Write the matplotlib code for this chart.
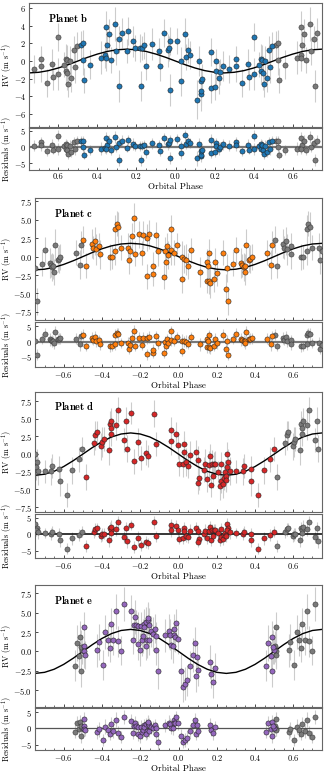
import numpy as np
import matplotlib
matplotlib.use('Agg')
import matplotlib.pyplot as plt
from matplotlib.ticker import MultipleLocator, FixedLocator, FixedFormatter

plt.rcParams['font.family'] = 'serif'
plt.rcParams['font.serif'] = ['cmr10']
plt.rcParams['mathtext.fontset'] = 'cm'
plt.rcParams['axes.formatter.use_mathtext'] = True

# ---- planet b ----
ph_b = [-0.486,-0.474,-0.474,-0.469,-0.437,-0.38,-0.36,-0.358,-0.35,-0.355,
        -0.343,-0.33,-0.31,-0.304,-0.29,-0.287,-0.276,-0.25,-0.244,-0.22,
        -0.207,-0.183,-0.172,-0.176,-0.16,-0.153,-0.12,-0.082,-0.08,-0.061,
        -0.04,-0.034,-0.026,-0.026,0.009,0.029,0.029,0.048,0.055,0.063,
        0.073,0.11,0.12,0.128,0.131,0.128,0.135,0.18,0.18,0.2,
        0.205,0.205,0.224,0.23,0.242,0.276,0.309,0.309,0.341,0.37,
        0.375,0.4,0.4,0.43,0.438,0.438,0.445,0.447,0.452,0.459,
        0.467,0.481,0.486,0.495]
rv_b = [1.81,2.0,0.17,-2.19,-0.4,0.4,0.67,3.9,1.77,0.29,
        3.07,0.1,4.2,1.16,2.46,-2.84,3.2,1.16,3.4,2.23,
        1.5,1.5,1.5,-2.88,1.77,-0.6,1.96,1.12,-0.6,3.14,
        1.23,1.43,2.3,-3.26,2.3,-2.23,-0.02,3.1,0.48,1.23,
        0.67,-4.4,-0.02,-3.8,-3.4,-2.27,-2.08,1.0,-3.03,-2.95,
        -0.02,-1.12,-1.92,-1.24,-0.55,-0.9,0.21,-0.6,-2.46,-0.36,
        -1.77,2.69,-1.5,-0.4,0.25,-1.12,0.17,-1.35,-2.57,0.02,
        -1.89,1.31,-0.67,1.7]
err_b = [1.6,1.5,1.8,1.4,1.6,1.9,1.5,1.8,1.6,1.4,
         1.7,1.5,1.9,1.6,1.5,1.8,1.7,1.4,1.6,1.8,
         1.5,1.6,1.4,1.7,1.5,1.6,1.8,1.5,1.7,1.6,
         1.9,1.4,1.6,1.8,1.5,1.7,1.6,1.8,1.5,1.4,
         1.6,2.2,1.7,1.9,1.6,1.5,1.8,1.6,1.7,1.5,
         1.4,1.6,1.8,1.5,1.7,1.6,1.5,1.8,1.6,1.7,
         1.5,1.6,1.8,1.4,1.7,1.5,1.6,1.9,1.5,1.7,
         1.6,1.5,1.8,1.6]

# ---- planet c ----
ph_c = [-0.498,-0.484,-0.453,-0.446,-0.437,-0.432,-0.414,-0.41,-0.358,-0.347,
        -0.33,-0.323,-0.314,-0.33,-0.3,-0.265,-0.26,-0.251,-0.242,-0.233,
        -0.225,-0.209,-0.191,-0.188,-0.163,-0.163,-0.153,-0.133,-0.133,-0.116,
        -0.105,-0.074,-0.072,-0.063,-0.06,-0.054,-0.04,-0.037,-0.025,-0.007,
        0.016,0.019,0.028,0.038,0.052,0.065,0.112,0.15,0.158,0.147,
        0.156,0.16,0.165,0.186,0.19,0.2,0.232,0.249,0.258,0.252,
        0.284,0.3,0.328,0.333,0.34,0.345,0.349,0.354,0.37,0.375,
        0.382,0.463,0.484,0.49]
rv_c = [2.3,-1.27,1.76,1.22,2.1,1.0,1.45,0.3,-0.05,-0.05,
        3.7,4.47,4.0,0.72,1.22,1.17,-0.5,0.76,2.8,5.3,
        0.4,3.03,0.5,2.9,-2.67,2.58,3.03,-2.3,-1.27,2.9,
        0.8,-2.8,0.8,-0.72,1.45,0.27,3.8,0.9,0.54,1.63,
        -3.1,-0.05,-0.27,-0.4,-1.27,0.85,-2.08,-0.72,0.5,-3.3,
        -1.31,-3.3,-3.6,-3.1,-0.72,-2.2,0.54,-4.35,-6.06,-1.6,
        -0.95,0.9,-0.86,-1.18,-1.4,-1.31,-2.08,1.63,-0.4,-0.27,
        -0.05,0.54,-1.09,1.63]
err_c = [1.8,1.7,2.0,1.6,1.9,2.1,1.7,2.0,1.8,1.6,
         1.9,1.7,2.1,1.8,1.7,2.0,1.9,1.6,1.8,2.0,
         1.7,1.8,1.6,1.9,1.7,1.8,2.0,1.7,1.9,1.8,
         2.1,1.6,1.8,2.0,1.7,1.9,1.8,2.0,1.7,1.6,
         1.8,2.2,1.9,2.1,1.8,1.7,2.0,1.8,1.9,1.7,
         1.6,1.8,2.0,1.7,1.9,1.8,1.7,2.0,1.8,1.9,
         1.7,1.8,2.0,1.6,1.9,1.7,1.8,2.1,1.7,1.9,
         1.8,1.7,2.0,1.8]

# ---- planet d ----
ph_d = [-0.483,-0.443,-0.434,-0.428,-0.404,-0.398,-0.39,-0.363,-0.358,-0.353,
        -0.351,-0.353,-0.328,-0.316,-0.287,-0.275,-0.271,-0.248,-0.23,-0.21,
        -0.194,-0.169,-0.157,-0.13,-0.116,-0.037,-0.038,-0.014,-0.005,0.027,
        0.029,0.002,0.022,0.039,0.05,0.062,0.092,0.1,0.106,0.104,
        0.131,0.14,0.15,0.157,0.166,0.17,0.175,0.184,0.191,0.18,
        0.209,0.223,0.216,0.224,0.231,0.237,0.242,0.247,0.251,0.26,
        0.249,0.254,0.268,0.302,0.336,0.341,0.378,0.381,0.418,0.445,
        0.48,0.498]
rv_d = [-3.25,1.6,2.64,3.1,1.13,1.7,2.08,0.52,4.29,3.68,
        4.67,2.88,4.06,6.32,2.03,4.67,0.75,5.8,-1.04,1.7,
        -0.57,0.19,-0.24,5.7,1.37,3.44,1.84,2.88,1.23,1.46,
        0.28,-1.46,-1.46,-1.13,-1.75,-0.1,0.24,-0.9,-3.4,-4.06,
        -2.22,-1.46,-3.5,-1.6,-0.33,-4.43,-1.46,-1.46,-1.46,-3.16,
        -2.55,-1.46,-4.57,-3.82,-4.29,-3.35,-2.55,-3.16,-0.05,-1.13,
        -3.63,-1.84,-2.4,-2.45,-2.45,-1.75,-2.08,-3.82,-5.8,-2.3,
        -0.75,0.66]
err_d = [1.8,1.7,2.0,1.6,1.9,2.1,1.7,2.0,1.8,1.6,
         1.9,1.7,2.1,1.8,1.7,2.0,1.9,1.6,1.8,2.0,
         1.7,1.8,1.6,1.9,1.7,1.8,2.0,1.7,1.9,1.8,
         2.1,1.6,1.8,2.0,1.7,1.9,1.8,2.0,1.7,1.6,
         1.8,2.2,1.9,2.1,1.8,1.7,2.0,1.8,1.9,1.7,
         1.6,1.8,2.0,1.7,1.9,1.8,1.7,2.0,1.8,1.9,
         1.7,1.8,2.0,1.6,1.9,1.7,1.8,2.1,1.7,1.9,
         1.8,1.7]

# ---- planet e ----
ph_e = [-0.496,-0.492,-0.492,-0.49,-0.425,-0.415,-0.395,-0.383,-0.37,-0.358,
        -0.355,-0.34,-0.326,-0.316,-0.302,-0.287,-0.25,-0.236,-0.235,-0.227,
        -0.222,-0.21,-0.213,-0.2,-0.196,-0.192,-0.187,-0.182,-0.178,-0.169,
        -0.166,-0.168,-0.16,-0.155,-0.153,-0.157,-0.143,-0.134,-0.125,-0.116,
        -0.118,-0.106,-0.069,-0.051,-0.046,-0.037,-0.028,-0.025,-0.023,-0.016,
        -0.012,-0.002,0.011,0.021,0.034,0.046,0.062,0.078,0.09,0.087,
        0.097,0.104,0.166,0.171,0.178,0.192,0.457,0.47,0.482,0.487,
        0.489,0.498,0.492]
rv_e = [0.65,3.15,0.09,-0.43,0.13,1.2,-1.77,2.46,1.42,0.43,
        3.53,1.42,5.17,1.29,0.09,6.16,5.17,1.42,3.45,4.4,
        3.45,0.95,3.32,0.22,3.23,1.42,2.03,3.58,3.1,3.75,
        1.5,0.73,4.1,3.36,1.42,4.3,2.59,2.28,2.93,2.03,
        0.22,-2.5,2.07,2.59,2.16,0.86,0.65,2.89,2.16,1.85,
        3.66,1.6,-2.5,-4.6,-4.18,-3.75,-1.85,-0.43,-3.23,1.08,
        -0.73,-2.46,-1.38,-2.89,-3.97,-2.16,-1.85,1.08,-0.65,1.85,
        -2.6,0.22,0.56]
err_e = [2.0,1.9,2.2,1.8,2.1,2.3,1.9,2.2,2.0,1.8,
         2.1,1.9,2.3,2.0,1.9,2.2,2.1,1.8,2.0,2.2,
         1.9,2.0,1.8,2.1,1.9,2.0,2.2,1.9,2.1,2.0,
         2.3,1.8,2.0,2.2,1.9,2.1,2.0,2.2,1.9,1.8,
         2.0,2.4,2.1,2.3,2.0,1.9,2.2,2.0,2.1,1.9,
         1.8,2.0,2.2,1.9,2.1,2.0,1.9,2.2,2.0,2.1,
         1.9,2.0,2.2,1.8,2.1,1.9,2.0,2.3,1.9,2.1,
         2.0,1.9,2.2]

# model curves read at phase steps of 0.05 from -0.75 to 0.75
model_phase = np.round(np.arange(-0.75, 0.751, 0.05), 2)
mod_b = [-1.35,-1.28,-1.09,-0.79,-0.42,0.0,0.42,0.79,1.09,1.28,1.35,1.28,1.09,0.79,0.42,0.0,
         -0.42,-0.79,-1.09,-1.28,-1.35,-1.28,-1.09,-0.79,-0.42,0.0,0.42,0.79,1.09,1.28,1.35]
mod_c = [-1.8,-1.71,-1.46,-1.06,-0.56,0.0,0.56,1.06,1.46,1.71,1.8,1.71,1.46,1.06,0.56,0.0,
         -0.56,-1.06,-1.46,-1.71,-1.8,-1.71,-1.46,-1.06,-0.56,0.0,0.56,1.06,1.46,1.71,1.8]
mod_d = [-3.0,-2.85,-2.43,-1.76,-0.93,0.0,0.93,1.76,2.43,2.85,3.0,2.85,2.43,1.76,0.93,0.0,
         -0.93,-1.76,-2.43,-2.85,-3.0,-2.85,-2.43,-1.76,-0.93,0.0,0.93,1.76,2.43,2.85,3.0]
mod_e = [-2.85,-2.71,-2.31,-1.68,-0.88,0.0,0.88,1.68,2.31,2.71,2.85,2.71,2.31,1.68,0.88,0.0,
         -0.88,-1.68,-2.31,-2.71,-2.85,-2.71,-2.31,-1.68,-0.88,0.0,0.88,1.68,2.31,2.71,2.85]

names = ['Planet b', 'Planet c', 'Planet d', 'Planet e']
colors = ['#1f77b4', '#ff7f0e', '#d62728', '#9467bd']

fig = plt.figure(figsize=(3.25, 7.75), dpi=100)

def draw_panel(top_px, left_px, rv_h, res_h, gap, ph, rv, err, mod, color, name,
               ylim, yticks, rylim, zero_col, zero_lw, xlabels=None):
    W, H = 325.0, 775.0
    left = left_px / W
    wpx = 322 - left_px
    ax = fig.add_axes([left, 1 - (top_px + rv_h) / H, wpx / W, rv_h / H])
    axr = fig.add_axes([left, 1 - (top_px + rv_h + gap + res_h) / H, wpx / W, res_h / H])

    ph = np.array(ph); rv = np.array(rv); err = np.array(err)
    res = rv - np.interp(ph, model_phase, mod)
    wrap = np.abs(ph) > 0.25
    ph_g = np.where(ph[wrap] > 0, ph[wrap] - 1, ph[wrap] + 1)

    for a, yv in ((ax, rv), (axr, res)):
        a.errorbar(ph, yv, yerr=err, fmt='none', ecolor='#cccccc', elinewidth=0.8, zorder=1)
        a.errorbar(ph_g, yv[wrap], yerr=err[wrap], fmt='none', ecolor='#cccccc',
                   elinewidth=0.8, zorder=1)
        a.plot(ph_g, yv[wrap], 'o', ms=3.7, mfc='#7a7a7a', mec='#3a3a3a', mew=0.4, zorder=3)
        a.plot(ph, yv, 'o', ms=3.7, mfc=color, mec='#222222', mew=0.4, zorder=4)

    ax.plot(model_phase, mod, color='black', lw=1.0, zorder=2)
    axr.axhline(0, color=zero_col, lw=zero_lw, zorder=2)

    for a in (ax, axr):
        a.set_xlim(-0.75, 0.75)
        a.xaxis.set_major_locator(MultipleLocator(0.2))
        a.xaxis.set_minor_locator(MultipleLocator(0.05))
        a.tick_params(direction='in', labelsize=6, length=2.5, width=0.5, pad=2)
        a.tick_params(which='minor', direction='in', length=1.3, width=0.4)
        for s in a.spines.values():
            s.set_color('#666666')
            s.set_linewidth(0.8)
    ax.set_xticklabels([])
    ax.set_ylim(*ylim)
    ax.set_yticks(yticks)
    axr.set_ylim(*rylim)
    axr.set_yticks([-5, 0, 5])
    if xlabels is not None:
        axr.xaxis.set_major_locator(FixedLocator([-0.6, -0.4, -0.2, 0.0, 0.2, 0.4, 0.6]))
        axr.xaxis.set_major_formatter(FixedFormatter(xlabels))
    lx = (14 - left_px) / wpx
    ax.set_ylabel(r'RV (m s$^{-1}$)', fontsize=6)
    ax.yaxis.set_label_coords(lx, 0.5)
    axr.set_ylabel(r'Residuals (m s$^{-1}$)', fontsize=6)
    axr.yaxis.set_label_coords(lx, 0.5)
    axr.set_xlabel('Orbital Phase', fontsize=6.5, labelpad=1)
    ax.text(0.065, 0.93, r'$\mathbf{' + name.replace(' ', r'\ ') + '}$',
            transform=ax.transAxes, fontsize=7.5, va='top', ha='left')

draw_panel(3, 29, 124, 42, 1, ph_b, rv_b, err_b, mod_b, colors[0], names[0],
           (-7.5, 6.6), [-6, -4, -2, 0, 2, 4, 6], (-7.1, 5.8), '#777777', 1.6,
           xlabels=['0.6', '0.4', '0.2', '0.0', '0.2', '0.4', '0.6'])
draw_panel(198, 35, 122, 45, 2, ph_c, rv_c, err_c, mod_c, colors[1], names[1],
           (-8.6, 7.95), [-7.5, -5, -2.5, 0, 2.5, 5, 7.5], (-8.3, 6.4), '#777777', 1.6)
draw_panel(392, 35, 120, 44, 2, ph_d, rv_d, err_d, mod_d, colors[2], names[2],
           (-8.2, 8.8), [-7.5, -5, -2.5, 0, 2.5, 5, 7.5], (-7.2, 6.1), 'black', 1.1)
draw_panel(585, 35, 122, 42, 1, ph_e, rv_e, err_e, mod_e, colors[3], names[3],
           (-7.2, 8.6), [-5, -2.5, 0, 2.5, 5, 7.5], (-6.7, 6.3), '#555555', 0.9)

fig.savefig('out.png', dpi=100)
